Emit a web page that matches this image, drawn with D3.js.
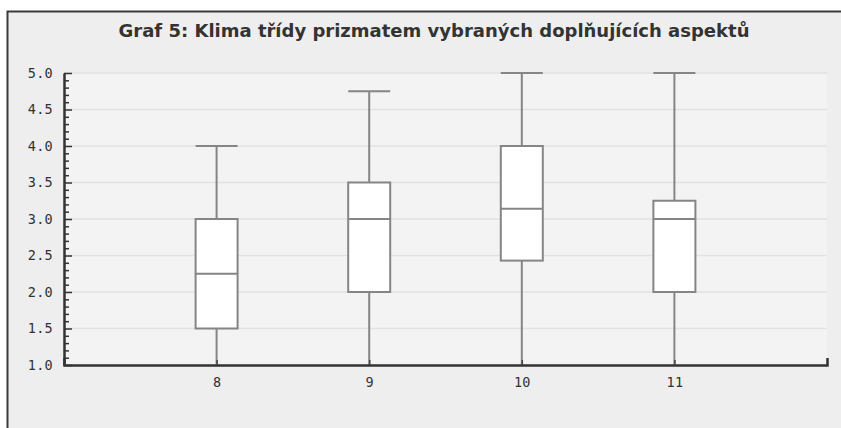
<!DOCTYPE html>
<html>
<head>
<meta charset="utf-8">
<script src="https://cdn.jsdelivr.net/npm/d3@7"></script>
<style>
  html, body { margin: 0; padding: 0; background: #ffffff; }
  svg { display: block; }
</style>
</head>
<body>
<svg id="chart" width="841" height="428"></svg>
<script>
// ---- data ----
const title = "Graf 5: Klima třídy prizmatem vybraných doplňujících aspektů";
const categories = [8, 9, 10, 11];
const whiskerLow  = [1.0, 1.0, 1.0, 1.0];
const q1          = [1.5, 2.0, 2.43, 2.0];
const median      = [2.25, 3.0, 3.14, 3.0];
const q3          = [3.0, 3.5, 4.0, 3.25];
const whiskerHigh = [4.0, 4.75, 5.0, 5.0];
const yTickValues = [1.0, 1.5, 2.0, 2.5, 3.0, 3.5, 4.0, 4.5, 5.0];
const yTickLabels = ["1.0", "1.5", "2.0", "2.5", "3.0", "3.5", "4.0", "4.5", "5.0"];
const xTickLabels = ["8", "9", "10", "11"];

// ---- layout ----
const svg = d3.select("#chart");
const W = 841, H = 428;
const plot = { left: 64, right: 827, top: 73, bottom: 365 };

const x = d3.scaleLinear().domain([7, 12]).range([plot.left, plot.right]);
const y = d3.scaleLinear().domain([1, 5]).range([plot.bottom, plot.top]);

// outer frame
svg.append("rect").attr("x", 0).attr("y", 0).attr("width", W).attr("height", H).attr("fill", "#ffffff");
svg.append("rect")
  .attr("x", 7.5).attr("y", 11.5).attr("width", W + 20).attr("height", H + 20)
  .attr("fill", "#eeeeee").attr("stroke", "#3a3a3a").attr("stroke-width", 2);

// plot background
svg.append("rect")
  .attr("x", plot.left).attr("y", plot.top)
  .attr("width", plot.right - plot.left).attr("height", plot.bottom - plot.top)
  .attr("fill", "#f3f3f3");

// title
svg.append("text")
  .attr("x", 434).attr("y", 36.5)
  .attr("text-anchor", "middle")
  .attr("font-family", "'DejaVu Sans', Verdana, sans-serif")
  .attr("font-weight", "bold")
  .attr("font-size", "18px")
  .attr("fill", "#333333")
  .text(title);

// gridlines
svg.append("g")
  .selectAll("line")
  .data(yTickValues.filter(v => v > 1))
  .join("line")
  .attr("x1", plot.left).attr("x2", plot.right)
  .attr("y1", d => y(d)).attr("y2", d => y(d))
  .attr("stroke", "#e2e2e2").attr("stroke-width", 1.5);

// boxes
const data = categories.map((c, i) => ({
  c, lo: whiskerLow[i], q1: q1[i], med: median[i], q3: q3[i], hi: whiskerHigh[i]
}));
const halfW = 21;
const stroke = "#858585";
const sw = 2;
const boxes = svg.append("g").selectAll("g").data(data).join("g");

boxes.append("line")
  .attr("x1", d => x(d.c)).attr("x2", d => x(d.c))
  .attr("y1", d => y(d.hi)).attr("y2", d => y(d.q3))
  .attr("stroke", stroke).attr("stroke-width", sw);
boxes.append("line")
  .attr("x1", d => x(d.c)).attr("x2", d => x(d.c))
  .attr("y1", d => y(d.q1)).attr("y2", d => y(d.lo))
  .attr("stroke", stroke).attr("stroke-width", sw);
boxes.append("line")
  .attr("x1", d => x(d.c) - halfW).attr("x2", d => x(d.c) + halfW)
  .attr("y1", d => y(d.hi)).attr("y2", d => y(d.hi))
  .attr("stroke", stroke).attr("stroke-width", sw);
boxes.append("rect")
  .attr("x", d => x(d.c) - halfW).attr("width", halfW * 2)
  .attr("y", d => y(d.q3)).attr("height", d => y(d.q1) - y(d.q3))
  .attr("fill", "#ffffff").attr("stroke", stroke).attr("stroke-width", sw);
boxes.append("line")
  .attr("x1", d => x(d.c) - halfW).attr("x2", d => x(d.c) + halfW)
  .attr("y1", d => y(d.med)).attr("y2", d => y(d.med))
  .attr("stroke", stroke).attr("stroke-width", sw);

const tickFont = "'DejaVu Sans Mono', monospace";
const tickSize = "13.5px";

// y axis labels (left)
const yLab = svg.append("g").attr("transform", `translate(${plot.left},0)`)
  .call(d3.axisLeft(y).tickValues(yTickValues).tickSize(0).tickPadding(11)
        .tickFormat((d, i) => yTickLabels[i]));
yLab.select(".domain").remove();
yLab.selectAll("text").attr("font-family", tickFont).attr("font-size", tickSize)
  .attr("letter-spacing", "0.3px").attr("fill", "#333333");

// y axis minor ticks (inside)
const minor = d3.range(10, 51).map(v => v / 10).filter(v => !yTickValues.some(t => Math.abs(t - v) < 1e-9));
const yMinor = svg.append("g").attr("transform", `translate(${plot.left},0)`)
  .call(d3.axisRight(y).tickValues(minor).tickSize(5).tickFormat(""));
yMinor.select(".domain").remove();
yMinor.selectAll("line").attr("stroke", "#333333").attr("stroke-width", 1.5);

// y axis major ticks and line
const yMajor = svg.append("g").attr("transform", `translate(${plot.left},0)`)
  .call(d3.axisRight(y).tickValues(yTickValues).tickSizeInner(8).tickSizeOuter(0).tickFormat(""));
yMajor.select(".domain").attr("stroke", "#333333").attr("stroke-width", 2.5);
yMajor.selectAll(".tick line").attr("stroke", "#333333").attr("stroke-width", 1.5);

// x axis
const xAx = svg.append("g").attr("transform", `translate(0,${plot.bottom})`)
  .call(d3.axisBottom(x).tickValues(categories).tickSizeInner(-5).tickSizeOuter(-7).tickPadding(12)
        .tickFormat((d, i) => xTickLabels[i]));
xAx.select(".domain").attr("stroke", "#333333").attr("stroke-width", 2.5);
xAx.selectAll(".tick line").attr("stroke", "#444444").attr("stroke-width", 1.5);
xAx.selectAll("text").attr("font-family", tickFont).attr("font-size", tickSize)
  .attr("letter-spacing", "0.3px").attr("fill", "#333333");
</script>
</body>
</html>
